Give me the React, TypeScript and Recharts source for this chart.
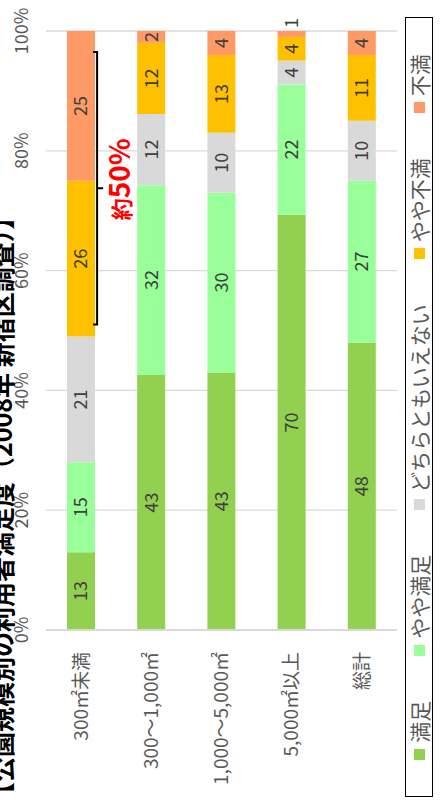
import React from 'react';
import { BarChart, Bar, XAxis, YAxis, CartesianGrid, LabelList, Legend, ReferenceLine } from 'recharts';

const categories = ['300㎡未満', '300～1,000㎡', '1,000～5,000㎡', '5,000㎡以上', '総計'];
const satisfied = [13, 43, 43, 70, 48];
const somewhatSatisfied = [15, 32, 30, 22, 27];
const neutral = [21, 12, 10, 4, 10];
const somewhatDissatisfied = [26, 12, 13, 4, 11];
const dissatisfied = [25, 2, 4, 1, 4];
const seriesKeys = ['s1', 's2', 's3', 's4', 's5'];
const seriesNames = ['満足', 'やや満足', 'どちらともいえない', 'やや不満', '不満'];
const seriesColors = ['#92D050', '#99FF99', '#D9D9D9', '#FFC000', '#FF9966'];
const percentTicks = [0, 0.2, 0.4, 0.6, 0.8, 1];
const title = '【公園規模別の利用者満足度（2008年 新宿区調査）】';
const bracketRange = [0.51, 0.965];
const bracketLabelPrefix = '約';
const bracketLabelValue = '50%';

const seriesValues = [satisfied, somewhatSatisfied, neutral, somewhatDissatisfied, dissatisfied];
const data = categories.map((name, i) => {
  const row: Record<string, any> = { name };
  seriesKeys.forEach((k, j) => {
    row[k] = seriesValues[j][i];
  });
  return row;
});

const FONT = "'Noto Sans CJK JP', 'Noto Sans', sans-serif";

const SegmentLabel = (props: any) => {
  const { x, y, width, height, value } = props;
  const small = Number(value) < 2;
  const tx = small ? x + width + 3 : x + width / 2;
  return (
    <text
      x={tx}
      y={y + height / 2}
      dy="0.355em"
      textAnchor={small ? 'start' : 'middle'}
      fill="#404040"
      fontSize={18}
      fontFamily={FONT}
    >
      {value}
    </text>
  );
};

const BracketShape = (props: any) => {
  const { x1, x2, y1 } = props;
  const left = Math.min(x1, x2);
  const right = Math.max(x1, x2);
  const y = y1 + 16;
  const mid = (left + right) / 2;
  return (
    <g>
      <path
        d={`M${left},${y - 4} L${left},${y} L${right},${y} L${right},${y - 4} M${mid},${y} L${mid},${y + 6}`}
        stroke="#000"
        strokeWidth={2}
        fill="none"
      />
      <text x={mid - 32} y={y1 + 49} fill="#FF0000" fontWeight="bold" fontFamily={FONT}>
        <tspan fontSize={22}>{bracketLabelPrefix}</tspan>
        <tspan fontSize={28}>{bracketLabelValue}</tspan>
      </text>
    </g>
  );
};

const renderLegend = () => {
  return (
    <div
      style={{
        boxSizing: 'border-box',
        width: 780,
        height: 28,
        border: '1.5px solid #000',
        display: 'flex',
        alignItems: 'center',
        justifyContent: 'center',
        gap: 45,
        background: '#fff',
        fontFamily: FONT,
      }}
    >
      {seriesNames.map((name, j) => (
        <div key={name} style={{ display: 'flex', alignItems: 'center' }}>
          <span style={{ width: 11, height: 11, background: seriesColors[j], display: 'inline-block', marginRight: 6 }} />
          <span style={{ fontSize: 21, color: '#595959', lineHeight: 1 }}>{name}</span>
        </div>
      ))}
    </div>
  );
};

export default function App() {
  return (
    <div style={{ position: 'absolute', left: 0, top: 0, width: 448, height: 810, overflow: 'hidden', background: '#fff' }}>
      <div
        style={{
          position: 'absolute',
          left: 0,
          top: 0,
          width: 810,
          height: 448,
          transformOrigin: '0 0',
          transform: 'translate(0px, 810px) rotate(-90deg)',
          fontFamily: FONT,
          background: '#fff',
        }}
      >
        <BarChart
          width={810}
          height={448}
          data={data}
          layout="vertical"
          stackOffset="expand"
          margin={{ top: 16, right: 31, bottom: 51, left: 0 }}
          barSize={28}
        >
          <CartesianGrid horizontal={false} stroke="#D9D9D9" strokeWidth={1.3} />
          <XAxis
            type="number"
            orientation="top"
            height={30}
            domain={[0, 1]}
            ticks={percentTicks}
            tickFormatter={(v: number) => `${Math.round(v * 100)}%`}
            axisLine={false}
            tickLine={false}
            tickSize={0}
            tickMargin={18}
            tick={{ fill: '#595959', fontSize: 18 }}
          />
          <YAxis
            type="category"
            dataKey="name"
            width={180}
            axisLine={{ stroke: '#D9D9D9', strokeWidth: 2 }}
            tickLine={false}
            tickSize={0}
            tickMargin={22}
            tick={{ fill: '#595959', fontSize: 19 }}
          />
          {seriesKeys.map((k, j) => (
            <Bar key={k} dataKey={k} name={seriesNames[j]} stackId="a" fill={seriesColors[j]} isAnimationActive={false}>
              <LabelList dataKey={k} content={SegmentLabel} />
            </Bar>
          ))}
          <ReferenceLine
            segment={[
              { x: bracketRange[0], y: categories[0] },
              { x: bracketRange[1], y: categories[0] },
            ]}
            ifOverflow="visible"
            shape={BracketShape}
          />
          <Legend
            layout="horizontal"
            verticalAlign="middle"
            align="center"
            wrapperStyle={{ position: 'absolute', left: 13, top: 405, width: 780, height: 28 }}
            content={renderLegend}
          />
        </BarChart>
        <svg width={810} height={448} style={{ position: 'absolute', left: 0, top: 0, pointerEvents: 'none' }}>
          <text x={3} y={12} fontSize={25} fontWeight="bold" fill="#000" fontFamily={FONT}>
            {title}
          </text>
        </svg>
      </div>
    </div>
  );
}
